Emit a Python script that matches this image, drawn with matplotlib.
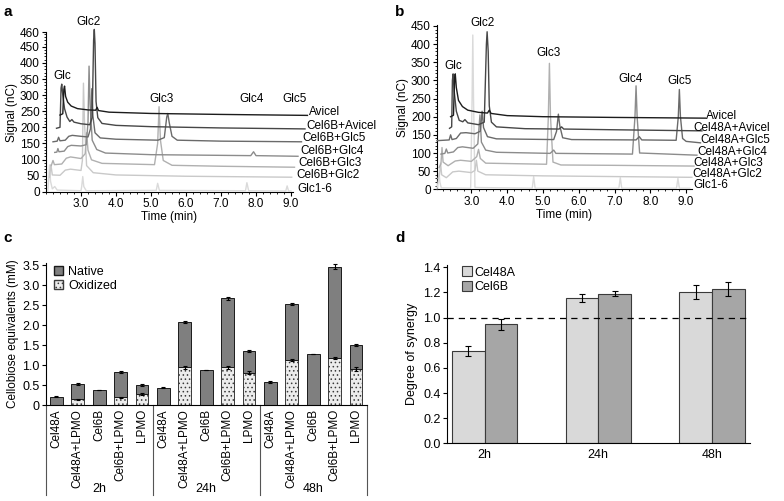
import matplotlib
matplotlib.use("Agg")
import matplotlib.pyplot as plt
import matplotlib.transforms as mtransforms
from matplotlib.ticker import MultipleLocator, FuncFormatter
from matplotlib.patches import Patch

plt.rcParams["font.family"] = ["Liberation Sans", "DejaVu Sans"]
plt.rcParams["font.size"] = 8.5
plt.rcParams["hatch.linewidth"] = 0.6

# ------------------------------
# a: HPAEC traces (time min, signal nC) for Cel6B
# ------------------------------
a_names = ["Avicel", "Cel6B+Avicel", "Cel6B+Glc5", "Cel6B+Glc4",
           "Cel6B+Glc3", "Cel6B+Glc2", "Glc1-6"]

a_avicel = [(2.40, 238), (2.48, 242), (2.51, 318), (2.53, 328), (2.56, 296), (2.62, 278),
            (2.72, 266), (2.90, 258), (3.20, 254), (3.42, 253), (3.46, 262), (3.50, 252),
            (3.80, 247), (5.00, 243), (7.00, 240), (9.47, 237)]
a_cel6b_avicel = [(2.30, 197), (2.40, 200), (2.43, 322), (2.45, 334), (2.48, 300), (2.53, 258),
                  (2.60, 232), (2.68, 218), (2.74, 224), (2.80, 216), (3.00, 211), (3.25, 208),
                  (3.32, 230), (3.36, 470), (3.38, 504), (3.40, 460), (3.43, 280), (3.48, 230),
                  (3.60, 212), (4.00, 206), (5.00, 202), (7.00, 198), (9.40, 195)]
a_cel6b_glc5 = [(2.20, 155), (2.32, 157), (2.36, 169), (2.40, 158), (2.55, 160), (2.65, 172),
                (2.75, 175), (3.00, 172), (3.20, 170), (3.27, 195), (3.31, 320), (3.34, 235),
                (3.40, 183), (3.55, 167), (4.00, 163), (5.20, 160), (5.38, 168), (5.45, 232),
                (5.48, 243), (5.52, 215), (5.60, 172), (5.75, 160), (7.00, 157), (9.30, 155)]
a_cel6b_glc4 = [(2.25, 122), (2.31, 123), (2.34, 134), (2.37, 124), (2.52, 126), (2.62, 140),
                (2.72, 144), (3.00, 142), (3.15, 146), (3.20, 215), (3.23, 390), (3.26, 270),
                (3.32, 160), (3.45, 131), (3.70, 120), (5.00, 115), (7.85, 112), (7.93, 124),
                (8.00, 112), (9.20, 110)]
a_cel6b_glc3 = [(2.15, 81), (2.20, 97), (2.24, 84), (2.45, 86), (2.58, 104), (2.70, 108),
                (3.00, 103), (3.12, 118), (3.16, 183), (3.20, 129), (3.30, 99), (3.60, 88),
                (5.10, 84), (5.19, 150), (5.23, 264), (5.27, 160), (5.35, 97), (5.60, 82),
                (7.00, 79), (9.10, 76)]
a_cel6b_glc2 = [(2.10, 45), (2.14, 84), (2.18, 52), (2.40, 51), (2.55, 67), (2.70, 70),
                (3.00, 66), (3.04, 97), (3.07, 337), (3.10, 215), (3.16, 81), (3.35, 59),
                (4.00, 52), (6.00, 48), (9.02, 45)]
a_glc1_6 = [(2.05, 2), (2.08, 43), (2.10, 83), (2.13, 32), (2.18, 9), (2.25, 16), (2.32, 5),
            (3.00, 3), (3.02, 16), (3.05, 47), (3.08, 16), (3.15, 3), (5.15, 4), (5.19, 26),
            (5.24, 4), (7.70, 3), (7.74, 28), (7.79, 3), (8.85, 2), (8.89, 18), (8.93, 2),
            (9.00, 2)]

a_peaks = ["Glc", "Glc2", "Glc3", "Glc4", "Glc5"]
a_yticks = [0, 50, 100, 150, 200, 250, 300, 350, 400, 450, 495]
a_yticklabels = ["0", "50", "100", "150", "200", "250", "300", "350", "400", "450", "460"]

# ------------------------------
# b: HPAEC traces for Cel48A
# ------------------------------
b_names = ["Avicel", "Cel48A+Avicel", "Cel48A+Glc5", "Cel48A+Glc4",
           "Cel48A+Glc3", "Cel48A+Glc2", "Glc1-6"]

b_avicel = [(2.42, 200), (2.50, 204), (2.53, 300), (2.55, 318), (2.58, 280), (2.64, 245),
            (2.75, 228), (2.90, 218), (3.20, 212), (3.45, 210), (3.50, 218), (3.55, 209),
            (4.00, 203), (5.00, 200), (7.00, 198), (9.54, 196)]
b_cel48a_avicel = [(2.39, 168), (2.45, 172), (2.47, 300), (2.49, 318), (2.52, 270), (2.58, 215),
                   (2.66, 190), (2.76, 186), (2.82, 192), (2.90, 183), (3.20, 178), (3.36, 185),
                   (3.42, 400), (3.44, 434), (3.47, 380), (3.50, 230), (3.56, 185), (3.70, 172),
                   (4.50, 167), (5.45, 166), (5.52, 172), (5.58, 166), (7.00, 164), (9.44, 161)]
b_cel48a_glc5 = [(2.04, 134), (2.38, 136), (2.42, 150), (2.46, 137), (2.58, 140), (2.70, 155),
                 (2.85, 156), (3.10, 153), (3.25, 160), (3.30, 215), (3.34, 170), (3.45, 145),
                 (3.70, 139), (5.30, 137), (5.38, 160), (5.43, 207), (5.47, 175), (5.55, 142),
                 (5.80, 137), (7.60, 136), (7.69, 145), (7.76, 136), (8.72, 135), (8.78, 200),
                 (8.81, 275), (8.84, 200), (8.90, 140), (9.00, 132), (9.40, 128)]
b_cel48a_glc4 = [(2.15, 97), (2.26, 99), (2.30, 111), (2.34, 100), (2.50, 103), (2.62, 115),
                 (2.75, 117), (3.05, 113), (3.18, 125), (3.24, 205), (3.28, 130), (3.40, 108),
                 (3.70, 102), (5.20, 99), (5.30, 108), (5.36, 99), (7.50, 97), (7.57, 200),
                 (7.60, 285), (7.63, 200), (7.70, 100), (9.30, 94)]
b_cel48a_glc3 = [(2.10, 60), (2.15, 70), (2.18, 115), (2.21, 75), (2.35, 65), (2.55, 78),
                 (2.70, 80), (3.00, 77), (3.15, 90), (3.20, 110), (3.25, 85), (3.40, 72),
                 (5.10, 69), (5.15, 200), (5.18, 347), (5.21, 200), (5.28, 75), (5.50, 67),
                 (7.00, 66), (9.22, 64)]
b_cel48a_glc2 = [(2.07, 30), (2.11, 40), (2.14, 72), (2.17, 40), (2.30, 32), (2.48, 48),
                 (2.65, 50), (3.00, 46), (3.10, 52), (3.14, 80), (3.18, 50), (3.40, 40),
                 (5.00, 37), (9.16, 33)]
b_glc1_6 = [(2.04, 2), (2.08, 25), (2.10, 45), (2.12, 20), (2.16, 4), (2.98, 3), (3.02, 250),
            (3.04, 425), (3.06, 250), (3.10, 5), (4.70, 3), (4.74, 35), (4.78, 3), (7.12, 3),
            (7.16, 32), (7.20, 3), (8.73, 3), (8.77, 30), (8.81, 3), (9.10, 3)]

# ------------------------------
# c: cellobiose equivalents (mM)
# ------------------------------
c_groups = ["2h", "24h", "48h"]
c_samples = ["Cel48A", "Cel48A+LPMO", "Cel6B", "Cel6B+LPMO", "LPMO"]
c_oxidized = [0.0, 0.14, 0.0, 0.19, 0.275,
              0.0, 0.94, 0.0, 0.94, 0.81,
              0.0, 1.125, 0.0, 1.175, 0.89]
c_total = [0.21, 0.525, 0.375, 0.825, 0.50,
           0.433, 2.08, 0.875, 2.67, 1.35,
           0.58, 2.525, 1.275, 3.46, 1.50]
c_ox_err = [0, 0.02, 0, 0.02, 0.02,
            0, 0.03, 0, 0.03, 0.03,
            0, 0.02, 0, 0.03, 0.05]
c_tot_err = [0.01, 0.015, 0.01, 0.015, 0.03,
             0.01, 0.03, 0.01, 0.04, 0.02,
             0.02, 0.03, 0.01, 0.07, 0.03]

# ------------------------------
# d: degree of synergy
# ------------------------------
d_groups = ["2h", "24h", "48h"]
d_cel48a = [0.737, 1.154, 1.202]
d_cel48a_err = [0.041, 0.032, 0.054]
d_cel6b = [0.947, 1.188, 1.225]
d_cel6b_err = [0.044, 0.02, 0.057]

grays = ["#1c1c1c", "#474747", "#6a6a6a", "#8c8c8c", "#b0b0b0", "#c9c9c9", "#dadada"]

fig = plt.figure(figsize=(7.84, 5.01), dpi=100)
W, H = 784.0, 501.0


def box(x0, y_top, x1, y_bot):
    return [x0 / W, 1 - y_bot / H, (x1 - x0) / W, (y_bot - y_top) / H]


def chromatogram(ax, traces, names, label_pos, peak_pos, xlim, ylim):
    # lightest trace first, darkest drawn on top
    for pts, col, name, (lx, ly) in zip(traces[::-1], grays[::-1], names[::-1], label_pos[::-1]):
        t = [p[0] for p in pts]
        s = [p[1] for p in pts]
        ax.plot(t, s, color=col, lw=1.0, clip_on=False, zorder=3)
        ax.text(lx, ly, name, ha="left", va="center", clip_on=False)
    for lab, (px, py) in zip(a_peaks, peak_pos):
        ax.text(px, py, lab, ha="center", va="center", clip_on=False)
    ax.set_xlim(*xlim)
    ax.set_ylim(*ylim)
    ax.set_xticks([3, 4, 5, 6, 7, 8, 9])
    ax.xaxis.set_major_formatter(FuncFormatter(lambda v, _: f"{v:.1f}"))
    ax.xaxis.set_minor_locator(MultipleLocator(0.2))
    ax.yaxis.set_minor_locator(MultipleLocator(10))
    ax.tick_params(which="major", length=3, width=0.8, pad=1.5)
    ax.tick_params(which="minor", length=1.5, width=0.6)
    ax.spines["top"].set_visible(False)
    ax.spines["right"].set_visible(False)
    ax.set_xlabel("Time (min)", labelpad=1)
    ax.set_ylabel("Signal (nC)", labelpad=1)


# ---- a
ax_a = fig.add_axes(box(46, 191.7 - 495 * 0.322, 46 + 7.05 * 35, 191.7))
a_traces = [a_avicel, a_cel6b_avicel, a_cel6b_glc5, a_cel6b_glc4,
            a_cel6b_glc3, a_cel6b_glc2, a_glc1_6]
chromatogram(ax_a, a_traces, a_names,
             [(9.52, 249), (9.43, 205), (9.33, 167), (9.26, 127), (9.22, 88), (9.14, 51), (9.19, 7)],
             [(2.47, 359), (3.22, 528), (5.31, 288), (7.88, 288), (9.09, 288)],
             (2.0, 9.05), (0, 495))
ax_a.set_yticks(a_yticks)
ax_a.set_yticklabels(a_yticklabels)

# ---- b
ax_b = fig.add_axes(box(437, 189.3 - 452 * 0.363, 437 + 7.11 * 35.8, 189.3))
b_traces = [b_avicel, b_cel48a_avicel, b_cel48a_glc5, b_cel48a_glc4,
            b_cel48a_glc3, b_cel48a_glc2, b_glc1_6]
chromatogram(ax_b, b_traces, b_names,
             [(9.56, 203), (9.21, 168), (9.40, 136), (9.30, 104), (9.21, 72), (9.16, 41), (9.21, 11)],
             [(2.48, 340), (3.30, 459), (5.16, 375), (7.44, 303), (8.81, 299)],
             (2.04, 9.15), (0, 452))
ax_b.set_yticks(range(0, 451, 50))

# ---- c
ax_c = fig.add_axes(box(45.7, 405 - 3.55 * 40, 366.7, 405))
xs = list(range(len(c_total)))
native = [t - o for t, o in zip(c_total, c_oxidized)]
ax_c.bar(xs, c_oxidized, width=0.6, color="#ececec", edgecolor="#3a3a3a",
         hatch="....", linewidth=0.7, zorder=2)
ax_c.bar(xs, native, bottom=c_oxidized, width=0.6, color="#7f7f7f",
         edgecolor="#1a1a1a", linewidth=0.7, zorder=2)
ox_x = [x for x, o in zip(xs, c_oxidized) if o > 0]
ox_y = [o for o in c_oxidized if o > 0]
ox_e = [e for e, o in zip(c_ox_err, c_oxidized) if o > 0]
ax_c.errorbar(ox_x, ox_y, yerr=ox_e, fmt="none", ecolor="black", elinewidth=0.8,
              capsize=1.5, capthick=0.8, zorder=3)
ax_c.errorbar(xs, c_total, yerr=c_tot_err, fmt="none", ecolor="black", elinewidth=0.8,
              capsize=1.5, capthick=0.8, zorder=3)
ax_c.set_xlim(-0.5, 14.5)
ax_c.set_ylim(0, 3.55)
ax_c.set_yticks([0, 0.5, 1.0, 1.5, 2.0, 2.5, 3.0, 3.5])
ax_c.yaxis.set_major_formatter(FuncFormatter(lambda v, _: "0" if v == 0 else f"{v:.1f}"))
ax_c.set_xticks(xs)
ax_c.set_xticklabels(c_samples * 3, rotation=90)
ax_c.tick_params(axis="x", length=0, pad=3)
ax_c.tick_params(axis="y", length=3, width=0.8, pad=1.5, labelsize=9)
ax_c.spines["top"].set_visible(False)
ax_c.spines["right"].set_visible(False)
ax_c.set_ylabel("Cellobiose equivalents (mM)", labelpad=2)
trans = mtransforms.blended_transform_factory(ax_c.transData, ax_c.transAxes)
for sx in [-0.5, 4.5, 9.5, 14.5]:
    ax_c.plot([sx, sx], [0, -0.634], color="#555555", lw=0.8, transform=trans, clip_on=False)
for gi, g in enumerate(c_groups):
    ax_c.text(gi * 5 + 2, -0.59, g, transform=trans, ha="center", va="center", fontsize=9)
ax_c.legend(handles=[Patch(facecolor="#7f7f7f", edgecolor="#1a1a1a", label="Native"),
                     Patch(facecolor="#ececec", edgecolor="#3a3a3a", hatch="....", label="Oxidized")],
            loc="upper left", bbox_to_anchor=(0.0, 1.04), frameon=False, fontsize=9,
            handlelength=0.7, handleheight=0.7, handletextpad=0.4, labelspacing=0.15,
            borderaxespad=0.3)

# ---- d
ax_d = fig.add_axes(box(447, 443.3 - 1.42 * 125.7, 750.3, 443.3))
gx = list(range(len(d_groups)))
bw = 0.286
ax_d.bar([g - bw / 2 for g in gx], d_cel48a, width=bw, color="#d9d9d9", edgecolor="#3a3a3a",
         linewidth=0.8, label="Cel48A", zorder=2)
ax_d.bar([g + bw / 2 for g in gx], d_cel6b, width=bw, color="#a6a6a6", edgecolor="#3a3a3a",
         linewidth=0.8, label="Cel6B", zorder=2)
ax_d.errorbar([g - bw / 2 for g in gx], d_cel48a, yerr=d_cel48a_err, fmt="none", ecolor="black",
              elinewidth=0.8, capsize=2, capthick=0.8, zorder=3)
ax_d.errorbar([g + bw / 2 for g in gx], d_cel6b, yerr=d_cel6b_err, fmt="none", ecolor="black",
              elinewidth=0.8, capsize=2, capthick=0.8, zorder=3)
ax_d.axhline(1.0, color="black", lw=0.9, ls=(0, (5, 4)), zorder=4)
ax_d.set_xlim(-0.33, 2.337)
ax_d.set_ylim(0, 1.42)
ax_d.set_yticks([0.0, 0.2, 0.4, 0.6, 0.8, 1.0, 1.2, 1.4])
ax_d.yaxis.set_major_formatter(FuncFormatter(lambda v, _: f"{v:.1f}"))
ax_d.set_xticks(gx)
ax_d.set_xticklabels(d_groups)
ax_d.tick_params(axis="x", length=0, pad=4, labelsize=9)
ax_d.tick_params(axis="y", length=3, width=0.8, pad=1.5, labelsize=9)
ax_d.spines["top"].set_visible(False)
ax_d.spines["right"].set_visible(False)
ax_d.set_ylabel("Degree of synergy", labelpad=4, fontsize=9)
ax_d.legend(loc="upper left", bbox_to_anchor=(0.02, 1.04), frameon=False, fontsize=9,
            handlelength=0.8, handleheight=0.8, handletextpad=0.2, labelspacing=0.2,
            borderaxespad=0.3)

for lab, x, y in [("a", 3, 12), ("b", 395, 12), ("c", 3, 238), ("d", 395, 238)]:
    fig.text(x / W, 1 - y / H, lab, fontsize=11, fontweight="bold", va="center", ha="left")

fig.savefig("out.png", dpi=100)
